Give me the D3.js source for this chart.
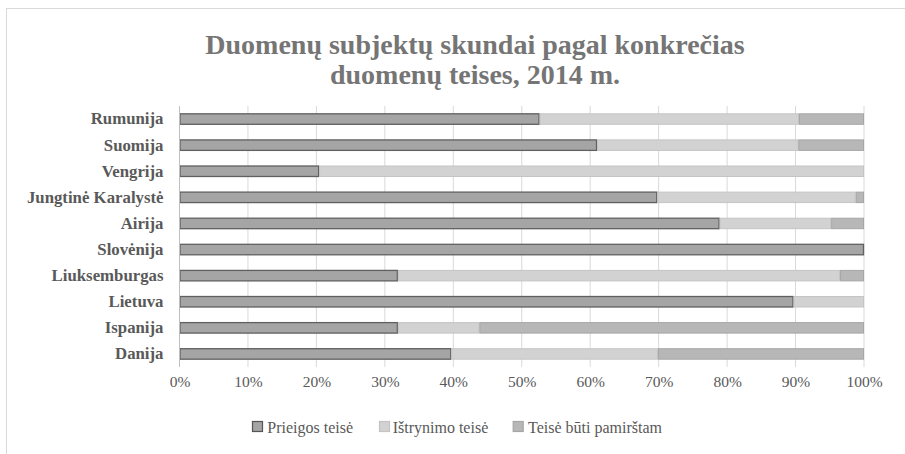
<!DOCTYPE html>
<html><head><meta charset="utf-8">
<script src="https://cdn.jsdelivr.net/npm/d3@7"></script>
<style>html,body{margin:0;padding:0;background:#fff;}svg{display:block;} svg text{font-family:"Liberation Serif","Times New Roman",serif;}</style>
</head><body>
<script>
const categories = ["Rumunija","Suomija","Vengrija","Jungtinė Karalystė","Airija","Slovėnija","Liuksemburgas","Lietuva","Ispanija","Danija"];
const seriesNames = ["Prieigos teisė","Ištrynimo teisė","Teisė būti pamirštam"];
const prieigos   = [52.6, 61.0, 20.4, 69.8, 78.9, 100, 31.9, 89.7, 31.9, 39.7];
const istrynimo  = [37.9, 29.4, 79.6, 29.0, 16.3, 0, 64.6, 10.3, 11.9, 30.2];
const pamirstam  = [9.5, 9.6, 0, 1.2, 4.8, 0, 3.5, 0, 56.2, 30.1];
const tickLabels = ["0%","10%","20%","30%","40%","50%","60%","70%","80%","90%","100%"];
const titleLines = ["Duomenų subjektų skundai pagal konkrečias","duomenų teises, 2014 m."];

const W=905,H=454;
const fills=["#a5a5a5","#d2d2d2","#b7b7b7"];
const strokes=["#606060","#c4c4c4","#a6a6a6"];
const svg=d3.select("body").append("svg").attr("width",W).attr("height",H);

// frame
svg.append("rect").attr("x",6.5).attr("y",8.5).attr("width",W).attr("height",H).attr("fill","none").attr("stroke","#d9d9d9");

const x=d3.scaleLinear().domain([0,100]).range([179.5,864]);
const y=d3.scaleBand().domain(categories).range([106,367]).paddingInner(0.56).paddingOuter(0.28);

// title
svg.append("text").attr("text-anchor","middle")
 .style("font-weight","bold").style("font-size","28px").attr("fill","#757575")
 .selectAll("tspan").data(titleLines).join("tspan").attr("x",475).attr("y",(d,i)=>54+i*30).text(d=>d);

// gridlines
svg.append("g").selectAll("line").data(d3.range(10,101,10)).join("line")
 .attr("x1",d=>x(d)).attr("x2",d=>x(d)).attr("y1",106).attr("y2",367)
 .attr("stroke","#d9d9d9").attr("stroke-width",1);

// stacked bars
const stackData=categories.map((c,i)=>({c,s0:prieigos[i],s1:istrynimo[i],s2:pamirstam[i]}));
const stack=d3.stack().keys(["s0","s1","s2"])(stackData);
stack.forEach((layer,k)=>{
  svg.append("g").selectAll("rect").data(layer.filter(d=>d[1]-d[0]>0)).join("rect")
   .attr("x",d=>x(d[0])+0.5).attr("y",d=>y(d.data.c)+0.5)
   .attr("width",d=>Math.max(0,x(d[1])-x(d[0])-1)).attr("height",y.bandwidth()-1)
   .attr("fill",fills[k]).attr("stroke",strokes[k]).attr("stroke-width",k===0?1.3:1);
});

// left axis line
svg.append("line").attr("x1",179.5).attr("x2",179.5).attr("y1",106).attr("y2",367).attr("stroke","#bfbfbf");

// category labels
const yAxis=d3.axisLeft(y).tickSize(0).tickPadding(16);
const ga=svg.append("g").attr("transform","translate(179.5,0)").call(yAxis).attr("font-family",null);
ga.select(".domain").remove();
ga.selectAll("text").style("font-weight","bold").style("font-size","16.8px").attr("fill","#595959");

// x tick labels
const xAxis=d3.axisBottom(x).tickValues(d3.range(0,101,10)).tickFormat((d,i)=>tickLabels[i]).tickSize(0).tickPadding(9);
const gx=svg.append("g").attr("transform","translate(0,367)").call(xAxis).attr("font-family",null);
gx.select(".domain").remove();
gx.selectAll("text").style("font-size","15.5px").attr("fill","#595959");

// legend
const legX=[252,379,512.7];
const lg=svg.append("g");
seriesNames.forEach((n,i)=>{
  lg.append("rect").attr("x",legX[i]+0.5).attr("y",421.5).attr("width",10).attr("height",10)
    .attr("fill",fills[i]).attr("stroke",i===0?"#555":strokes[i]).attr("stroke-width",1.2);
  lg.append("text").attr("x",legX[i]+(i===1?13.7:15.3)).attr("y",432.5)
    .style("font-size","16px").attr("fill","#595959").text(n);
});
</script>
</body></html>
